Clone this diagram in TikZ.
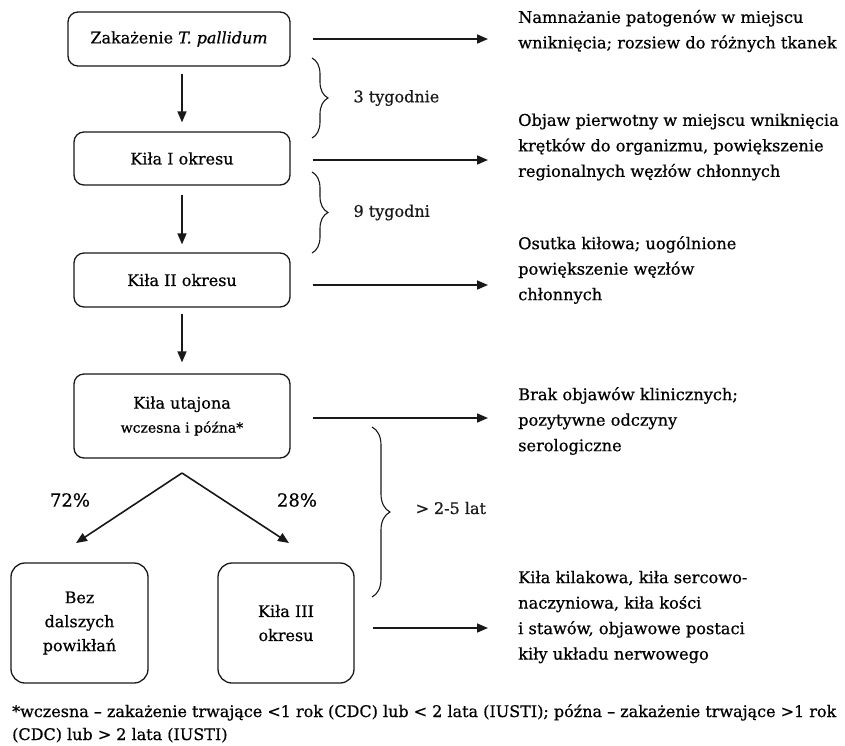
\documentclass[tikz,border=0pt]{standalone}
\usepackage{fontspec}
\setmainfont{DejaVu Serif}[FakeBold=0.6]
\usetikzlibrary{arrows.meta,positioning,decorations.pathreplacing}

\begin{document}
\begin{tikzpicture}[x=1pt,y=-1pt,
	box/.style={draw=BLACK, line width=1.3pt, rounded corners=10pt, align=center, inner sep=0pt, font=\fontsize{16}{24}\selectfont},
	note/.style={anchor=west, align=left, inner sep=0pt, font=\fontsize{16.2}{25.5}\selectfont},
	txt/.style={inner sep=0pt, font=\fontsize{16}{24}\selectfont},
	arr/.style={BLACK, line width=1.6pt, -{Triangle[width=9pt,length=11pt]}},
	brc/.style={BLACK, line width=1.1pt, decorate, decoration={brace, amplitude=#1}},
	brc/.default=16pt]

\definecolor{BLACK}{RGB}{25,25,25}
\definecolor{WHITE}{RGB}{255,255,255}
\useasboundingbox[fill=WHITE] (0,0) rectangle (845,745);

\node[box, minimum width=222pt, minimum height=54pt] (inf) at (179,39)
	{Zakażenie \textit{T. pallidum}};
\node[box, minimum width=216pt, minimum height=53pt] (k1) at (182,158.5)
	{Kiła I okresu};
\node[box, minimum width=216pt, minimum height=54pt] (k2) at (182,280)
	{Kiła II okresu};
\node[box, minimum width=216pt, minimum height=84pt] (lat) at (182,416)
	{Kiła utajona\\{\fontsize{14}{24}\selectfont wczesna i późna*}};
\node[box, rounded corners=14pt, minimum width=137pt, minimum height=120pt] (bez) at (79.5,623)
	{Bez\\dalszych\\powikłań};
\node[box, rounded corners=14pt, minimum width=136pt, minimum height=120pt] (k3) at (286,623)
	{Kiła III\\okresu};

\draw[arr, shorten <=7pt, shorten >=9pt] (inf.south -| k1.north) -- (k1.north);
\draw[arr, shorten <=9pt, shorten >=8pt] (k1.south) -- (k2.north);
\draw[arr, shorten <=6pt, shorten >=11pt] (k2.south) -- (lat.north);

\coordinate (fork) at (182,473);
\coordinate (forkL) at (76,543);
\coordinate (forkR) at (289,543);
\draw[arr] (fork) -- (forkL);
\draw[arr] (fork) -- (forkR);
\node[txt, font=\fontsize{18}{24}\selectfont] (p72) at (70,500) {72\%};
\node[txt, font=\fontsize{18}{24}\selectfont] (p28) at (297,500) {28\%};

\node[note] (t1) at (518,31)
	{Namnażanie patogenów w miejscu\\wniknięcia; rozsiew do różnych tkanek};
\node[note] (t2) at (518,147)
	{Objaw pierwotny w miejscu wniknięcia\\krętków do organizmu, powiększenie\\regionalnych węzłów chłonnych};
\node[note] (t3) at (518,270)
	{Osutka kiłowa; uogólnione\\powiększenie węzłów\\chłonnych};
\node[note] (t4) at (518,421)
	{Brak objawów klinicznych;\\pozytywne odczyny\\serologiczne};
\node[note] (t5) at (518,617)
	{Kiła kilakowa, kiła sercowo-\\naczyniowa, kiła kości\\i stawów, objawowe postaci\\kiły układu nerwowego};

\draw[arr] ([xshift=22pt]inf.east) -- ([xshift=-30pt]inf.east -| t1.west);
\draw[arr] ([xshift=22pt,yshift=-1.5pt]k1.east) -- ([xshift=-30pt,yshift=-1.5pt]k1.east -| t2.west);
\draw[arr] ([xshift=22pt,yshift=-5pt]k2.east) -- ([xshift=-30pt,yshift=-5pt]k2.east -| t3.west);
\draw[arr] ([xshift=22pt,yshift=-2pt]lat.east) -- ([xshift=-30pt,yshift=-2pt]lat.east -| t4.west);
\draw[arr] ([xshift=18pt,yshift=-5pt]k3.east) -- ([xshift=-30pt,yshift=-5pt]k3.east -| t5.west);

\coordinate (b1top) at (312,58);
\coordinate (b1bot) at (312,138);
\draw[brc] (b1top) -- (b1bot) node[midway, right=41pt, txt] (w3) {3 tygodnie};
\coordinate (b2top) at (312,172);
\coordinate (b2bot) at (312,253);
\draw[brc] (b2top) -- (b2bot) node[midway, right=41pt, txt] (w9) {9 tygodni};
\coordinate (b3top) at (372,427);
\coordinate (b3bot) at (372,597);
\draw[brc=18pt] (b3top) -- (b3bot) node[midway, right=43pt, yshift=4pt, txt] (yrs) {> 2-5 lat};

\node[anchor=north west, align=left, inner sep=0pt, font=\fontsize{16}{23}\selectfont] (fn) at (12,704)
	{*wczesna – zakażenie trwające <1 rok (CDC) lub < 2 lata (IUSTI); późna – zakażenie trwające >1 rok\\(CDC) lub > 2 lata (IUSTI)};
\end{tikzpicture}
\end{document}
